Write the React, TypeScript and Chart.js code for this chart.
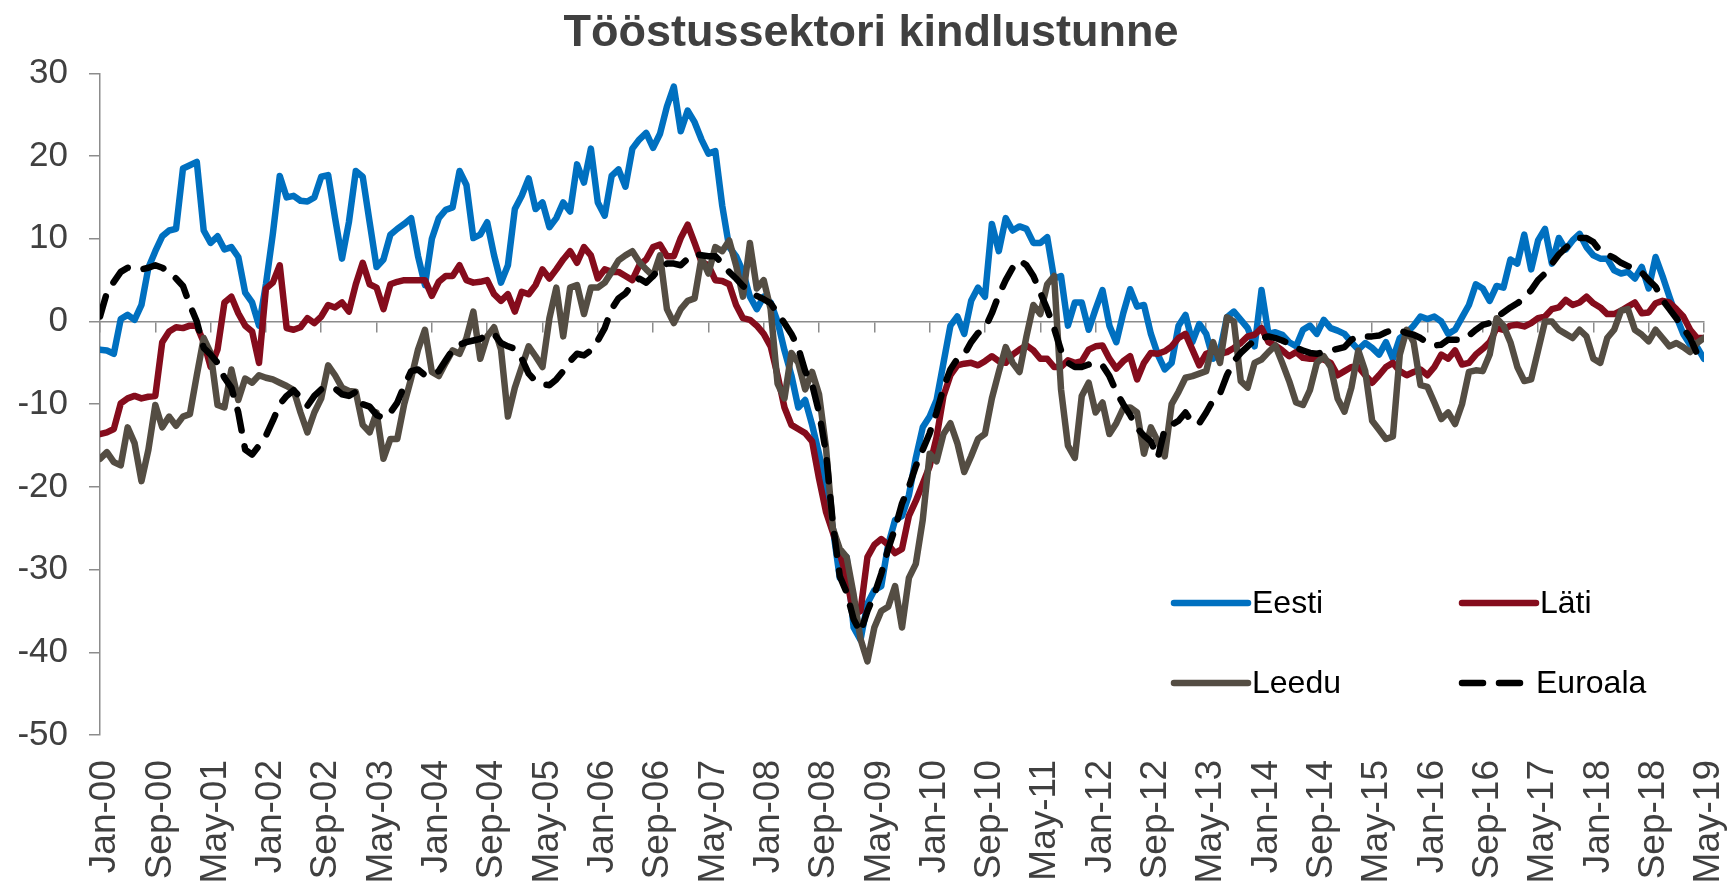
import React, { useEffect, useRef } from 'react';
import { Chart, registerables } from 'chart.js';

Chart.register(...registerables);

const MONTHS = ['Jan', 'Feb', 'Mar', 'Apr', 'May', 'Jun', 'Jul', 'Aug', 'Sep', 'Oct', 'Nov', 'Dec'];
const START_YEAR = 2000;
const N_MONTHS = 233; // Jan-00 .. May-19
const CATEGORIES: string[] = Array.from({ length: N_MONTHS }, (_, i) =>
  `${MONTHS[i % 12]}-${String((START_YEAR + Math.floor(i / 12)) % 100).padStart(2, '0')}`
);
const TICK_STEP = 8;
const TICK_INDEXES = CATEGORIES.map((_, i) => i).filter((i) => i % TICK_STEP === 0);
const Y_MIN = -50;
const Y_MAX = 30;
const Y_STEP = 10;

const TITLE = 'Tööstussektori kindlustunne';
const SERIES_NAMES = ['Eesti', 'Läti', 'Leedu', 'Euroala'];

const EESTI = [
  -3.4, -3.5, -3.9, 0.3, 0.8, 0.2, 2.0, 6.5, 8.5, 10.3, 11.0, 11.2,
  18.5, 18.9, 19.3, 11.0, 9.5, 10.3, 8.7, 9.0, 7.8, 3.5, 2.3, -0.5,
  4.5, 10.6, 17.6, 15.0, 15.2, 14.6, 14.5, 15.0, 17.5, 17.7, 12.5, 7.6,
  12.0, 18.2, 17.5, 12.0, 6.6, 7.5, 10.5, 11.2, 11.8, 12.5, 7.9, 4.4,
  10.0, 12.5, 13.5, 13.8, 18.2, 16.5, 10.1, 10.5, 12.0, 8.0, 4.7, 6.8,
  13.6, 15.2, 17.3, 13.6, 14.4, 11.4, 12.5, 14.4, 13.3, 19.0, 16.8, 20.9,
  14.4, 12.8, 17.6, 18.4, 16.3, 20.9, 22.0, 22.8, 21.0, 22.7, 26.0, 28.4,
  23.0, 25.5, 24.1, 22.0, 20.3, 20.6, 14.0, 9.0, 7.9, 6.0, 3.0, 1.5,
  3.0, 2.3, 0.0, -3.5, -6.5, -10.4, -9.5, -12.5, -16.0, -20.0, -25.0, -31.0,
  -28.5, -37.0, -38.5, -34.1, -32.5, -32.0, -27.0, -24.0, -23.5, -21.0, -16.5, -12.8,
  -11.5, -9.5, -5.0, -0.5, 0.6, -1.5, 2.5, 4.1, 3.0, 11.8, 8.5, 12.5,
  11.0, 11.5, 11.2, 9.5, 9.5, 10.2, 5.2, 5.5, -0.5, 2.3, 2.3, -1.0,
  1.5, 3.8, -0.5, -2.5, 1.0, 3.9, 1.8, 2.0, -1.5, -4.0, -5.8, -5.0,
  -0.5, 0.8, -2.5, -0.3, -1.5, -4.5, -3.5, 0.5, 1.2, 0.2, -0.8, -3.0,
  3.8, -1.5, -1.3, -1.6, -2.5, -3.0, -1.0, -0.5, -1.5, 0.2, -0.8, -1.1,
  -1.5, -2.5, -3.4, -2.6, -3.2, -4.0, -2.5, -4.5, -2.0, -1.4, -0.5, 0.6,
  0.3, 0.6, 0.0, -1.5, -1.0, 0.5, 2.0, 4.5, 4.0, 2.5, 4.3, 4.1,
  7.5, 7.0, 10.5, 6.3, 9.8, 11.2, 7.0, 10.1, 8.7, 9.8, 10.6, 9.0,
  8.0, 7.6, 7.6, 6.2, 5.8, 6.0, 5.2, 6.6, 4.0, 7.8, 5.5, 3.0,
  0.6, -1.5, -2.8, -3.1, -4.5,
];

const LATI = [
  -13.6, -13.4, -13.0, -9.9, -9.3, -9.0, -9.3, -9.1, -9.0, -2.5, -1.2, -0.7,
  -0.8, -0.5, -0.5, -2.5, -5.5, -3.4, 2.3, 3.0, 1.0, -0.5, -1.2, -5.0,
  4.0, 4.7, 6.8, -0.8, -1.0, -0.7, 0.4, -0.2, 0.6, 2.0, 1.7, 2.3,
  1.2, 4.5, 7.1, 4.5, 4.1, 1.5, 4.5, 4.8, 5.0, 5.0, 5.0, 5.0,
  3.1, 4.8, 5.5, 5.5, 6.8, 5.0, 4.7, 4.8, 5.0, 3.3, 2.5, 3.3,
  1.2, 3.6, 3.3, 4.4, 6.3, 5.2, 6.3, 7.5, 8.5, 7.1, 9.0, 8.0,
  5.2, 6.3, 6.0, 6.0, 5.5, 5.0, 6.8, 7.5, 9.0, 9.3, 7.9, 7.9,
  10.1, 11.7, 9.5, 7.2, 6.8, 5.0, 4.9, 4.5, 2.0, 0.4, 0.2, -0.5,
  -1.5, -3.0, -6.5, -10.4, -12.5, -13.0, -13.5, -14.5, -19.0, -23.0, -25.5, -28.0,
  -31.0, -35.5, -35.0, -28.5, -27.0, -26.3, -27.0, -28.0, -27.5, -23.5, -21.7, -19.6,
  -17.5, -14.0, -9.0, -6.5, -5.3, -5.1, -5.0, -5.3, -4.8, -4.2, -4.8, -5.0,
  -4.0, -3.4, -2.9, -3.5, -4.5, -4.5, -5.5, -5.5, -4.7, -5.0, -4.8, -3.4,
  -3.0, -2.9, -4.5, -5.7, -4.8, -4.2, -7.0, -5.0, -3.8, -3.9, -3.6, -3.0,
  -2.0, -1.5, -3.4, -5.3, -3.9, -3.6, -3.9, -3.7, -3.2, -2.6, -1.8, -1.6,
  -0.8, -2.5, -2.9, -3.5, -4.2, -3.7, -4.4, -4.5, -4.5, -4.6, -5.0, -6.5,
  -6.0, -5.5, -5.5, -6.5, -7.4, -6.5, -5.5, -5.0, -6.0, -6.5, -6.1, -5.8,
  -6.5, -5.5, -4.0, -4.5, -3.5, -5.2, -5.0, -4.0, -3.3, -2.5, -0.8, -1.0,
  -0.5, -0.4, -0.6, -0.2, 0.4, 0.6, 1.5, 1.7, 2.6, 2.0, 2.3, 3.0,
  2.2, 1.7, 0.9, 0.9, 1.3, 1.8, 2.3, 1.0, 1.1, 2.2, 2.5, 2.3,
  1.5, 0.6, -1.0, -2.0, -2.0,
];

const LEEDU = [
  -16.6, -15.8, -17.0, -17.4, -12.8, -14.7, -19.3, -15.5, -10.1, -12.8, -11.5, -12.6,
  -11.5, -11.2, -6.5, -2.0, -3.8, -10.1, -10.4, -5.8, -9.5, -6.9, -7.4, -6.5,
  -6.8, -7.0, -7.4, -7.8, -8.3, -11.0, -13.4, -11.0, -9.3, -5.3, -6.5, -8.0,
  -8.4, -8.5, -12.5, -13.4, -11.0, -16.6, -14.2, -14.2, -10.0, -6.9, -3.4, -1.0,
  -6.1, -6.6, -5.0, -3.5, -3.9, -2.0, 1.2, -4.5, -1.8, -0.7, -3.4, -11.5,
  -8.0, -5.5, -3.0, -4.2, -5.5, 0.4, 4.1, -1.8, 4.1, 4.4, 0.9, 4.1,
  4.1, 4.7, 6.0, 7.4, 8.0, 8.5, 7.2, 6.3, 5.5, 8.0, 1.5, -0.2,
  1.5, 2.5, 2.8, 7.7, 5.8, 9.0, 8.5, 9.8, 6.8, 3.0, 9.5, 4.0,
  5.0, 1.5, -7.5, -9.3, -3.8, -5.0, -8.2, -6.1, -8.8, -15.2, -25.0, -27.5,
  -28.5, -33.0, -38.4, -41.1, -37.0, -35.0, -34.5, -32.0, -37.0, -31.0, -29.3, -24.0,
  -16.0, -16.9, -13.6, -12.3, -14.7, -18.2, -16.3, -14.2, -13.6, -9.3, -6.1, -3.1,
  -5.0, -6.1, -1.8, 2.0, 0.9, 4.5, 5.5, -8.2, -15.0, -16.5, -9.0, -7.4,
  -11.0, -9.8, -13.6, -12.3, -10.5, -10.4, -11.0, -16.0, -12.8, -14.5, -16.3, -10.0,
  -8.5, -6.8, -6.6, -6.3, -6.0, -2.5, -5.0, 0.5, 0.0, -7.2, -8.0, -5.0,
  -4.6, -3.7, -2.9, -5.0, -7.2, -9.8, -10.1, -8.3, -5.0, -4.2, -5.5, -9.3,
  -10.9, -8.0, -3.5, -6.0, -12.0, -13.1, -14.2, -13.9, -4.0, -1.0, -2.5, -7.7,
  -7.9, -9.8, -11.8, -11.0, -12.4, -10.0, -6.1, -5.9, -6.0, -4.0, 0.4, -0.5,
  -2.5, -5.5, -7.2, -7.0, -3.5, 0.0, 0.0, -1.0, -1.5, -2.0, -1.0, -1.8,
  -4.5, -5.0, -2.0, -1.0, 1.3, 1.5, -1.0, -1.6, -2.4, -1.0, -2.0, -3.0,
  -2.6, -3.1, -3.7, -2.6, -2.0,
];

const EUROALA = [
  0.6, 3.5, 4.8, 6.0, 6.5, 6.3, 6.3, 6.5, 6.8, 6.5, 6.0, 5.2,
  4.3, 2.0, 0.0, -3.2, -4.0, -5.0, -6.8, -8.0, -11.0, -15.5, -16.1, -15.0,
  -13.8, -12.0, -10.0, -9.0, -8.3, -9.2, -10.2, -9.0, -8.2, -8.1, -8.1, -8.8,
  -9.0, -8.5, -10.0, -10.3, -11.3, -11.7, -11.0, -9.8, -7.8, -6.0, -5.8, -6.5,
  -6.4, -6.0, -4.7, -3.4, -2.8, -2.5, -2.3, -2.1, -1.6, -1.5, -2.6, -3.0,
  -3.3, -4.5, -6.3, -7.2, -7.6, -7.7, -7.0, -6.0, -4.8, -3.9, -4.1, -3.5,
  -2.3, -0.8, 1.5, 2.8, 3.4, 4.5, 5.2, 4.7, 5.5, 6.5, 7.0, 7.0,
  6.8, 7.6, 8.2, 8.0, 7.9, 7.9, 7.0, 6.0, 5.2, 4.3, 3.6, 3.1,
  2.7, 2.2, 1.0, -0.2, -1.5, -3.2, -6.0, -7.6, -11.0, -15.8, -24.4, -30.8,
  -32.8, -36.0, -37.6, -35.0, -33.0, -30.5, -27.5, -25.0, -22.0, -20.0, -17.5, -15.5,
  -13.5, -11.0, -8.0, -5.8, -4.5, -4.0, -2.5, -1.4, -0.8, 1.0, 3.2, 5.0,
  6.5, 7.4, 6.8, 5.5, 3.5, 1.5, -0.8, -3.5, -5.0, -5.5, -5.5, -5.2,
  -5.0, -5.3, -6.6, -8.5, -10.0, -11.3, -12.9, -13.8, -14.5, -16.5, -13.0, -12.5,
  -12.0, -11.0, -12.3, -12.3, -11.0, -9.5, -8.7, -6.5, -4.8, -3.8, -3.0, -2.3,
  -2.0, -1.8, -2.0, -2.3, -2.7, -3.2, -3.5, -3.8, -3.9, -3.7, -3.5, -3.3,
  -3.1, -2.2, -1.8, -1.8, -1.8, -1.7, -1.3, -1.0, -1.1, -1.4, -1.6, -2.0,
  -2.6, -2.9, -2.8, -2.2, -2.2, -2.2, -1.7, -1.0, -0.4, -0.2, 0.5, 1.1,
  1.7, 2.2, 2.8, 3.8, 5.0, 5.8, 7.0, 8.1, 8.9, 9.6, 10.1, 10.1,
  9.6, 8.5, 8.1, 7.7, 7.1, 6.7, 6.3, 5.9, 5.0, 4.2, 2.6, 1.5,
  0.4, -0.8, -2.0, -3.9, -3.3,
];

const SERIES_VALUES = [EESTI, LATI, LEEDU, EUROALA];
const SERIES_COLORS = ['#0070C0', '#850C1C', '#544D43', '#000000'];
const SERIES_DASH: number[][] = [[], [], [], [21, 16]];
const SERIES_ORDER = [4, 3, 2, 1];

const FONT_FAMILY = '"Liberation Sans", Arial, Helvetica, sans-serif';
const AXIS_COLOR = '#8C8C8C';
const LABEL_COLOR = '#404040';

const inlineLegend = {
  id: 'inlineLegend',
  afterDatasetsDraw(chart: any) {
    const { ctx, chartArea } = chart;
    const cols = [chartArea.left + 1074, chartArea.left + 1362];
    const rows = [chartArea.top + 529.5, chartArea.top + 609.5];
    chart.data.datasets.forEach((ds: any, i: number) => {
      const x = cols[i % 2];
      const y = rows[Math.floor(i / 2)];
      const dashed = ds.borderDash && ds.borderDash.length > 0;
      const len = dashed ? 66 : 74;
      ctx.save();
      ctx.strokeStyle = ds.borderColor;
      ctx.lineWidth = 6.5;
      ctx.lineCap = 'round';
      ctx.setLineDash(ds.borderDash || []);
      ctx.beginPath();
      ctx.moveTo(x, y);
      ctx.lineTo(x + len, y);
      ctx.stroke();
      ctx.setLineDash([]);
      ctx.fillStyle = '#000000';
      ctx.font = `32px ${FONT_FAMILY}`;
      ctx.textBaseline = 'middle';
      ctx.textAlign = 'left';
      ctx.fillText(ds.label, x + (dashed ? 74 : len + 4), y + 1);
      ctx.restore();
    });
  },
};

const setMonthTicks = (s: any) => {
  s.ticks = TICK_INDEXES.map((v) => ({ value: v }));
};

export default function App() {
  const canvasRef = useRef<HTMLCanvasElement | null>(null);

  useEffect(() => {
    document.body.style.margin = '0';
    const canvas = canvasRef.current;
    if (!canvas) return;

    const datasets = SERIES_NAMES.map((name, k) => ({
      label: name,
      data: SERIES_VALUES[k].map((v, i) => ({ x: i, y: v })),
      borderColor: SERIES_COLORS[k],
      backgroundColor: SERIES_COLORS[k],
      borderWidth: 6.5,
      borderDash: SERIES_DASH[k],
      borderCapStyle: 'round',
      borderJoinStyle: 'round',
      pointRadius: 0,
      pointHoverRadius: 0,
      tension: 0,
      fill: false,
      order: SERIES_ORDER[k],
      xAxisID: 'x',
      yAxisID: 'y',
    }));

    const chart = new Chart(canvas, {
      type: 'line',
      data: { datasets } as any,
      plugins: [inlineLegend],
      options: {
        animation: false,
        responsive: false,
        devicePixelRatio: 1,
        parsing: false as any,
        normalized: true,
        layout: { padding: { left: 8, right: 0, top: 0, bottom: 0 } },
        font: { family: FONT_FAMILY },
        plugins: {
          legend: { display: false },
          tooltip: { enabled: false },
          title: {
            display: true,
            text: TITLE,
            color: LABEL_COLOR,
            font: { family: FONT_FAMILY, size: 45, weight: 'bold' },
            padding: { top: 6.5, bottom: 12.9 },
          },
        },
        scales: {
          x: {
            type: 'linear',
            position: 'bottom',
            min: 0,
            max: N_MONTHS - 1,
            grid: { display: false, drawTicks: false },
            border: { display: false },
            ticks: {
              autoSkip: false,
              minRotation: 90,
              maxRotation: 90,
              padding: 25,
              labelOffset: 5,
              color: LABEL_COLOR,
              font: { family: FONT_FAMILY, size: 37 },
              callback: (v: any) => CATEGORIES[Math.round(Number(v))] ?? '',
            },
            afterBuildTicks: setMonthTicks,
            afterFit: (s: any) => {
              s.height = 149;
              s.paddingLeft = 0;
              s.paddingRight = 30;
            },
          },
          x0: {
            type: 'linear',
            axis: 'x',
            position: { y: 0 } as any,
            min: 0,
            max: N_MONTHS - 1,
            grid: { display: true, drawOnChartArea: false, drawTicks: true, tickLength: 10, color: AXIS_COLOR, lineWidth: 1.5 },
            border: { display: true, color: AXIS_COLOR, width: 1.5 },
            ticks: { display: false, autoSkip: false },
            afterBuildTicks: setMonthTicks,
            afterFit: (s: any) => {
              s.paddingLeft = 0;
              s.paddingRight = 0;
            },
          },
          y: {
            type: 'linear',
            position: 'left',
            min: Y_MIN,
            max: Y_MAX,
            grid: { display: true, drawOnChartArea: false, drawTicks: true, tickLength: 11, color: AXIS_COLOR, lineWidth: 1.5 },
            border: { display: true, color: AXIS_COLOR, width: 1.5 },
            ticks: {
              stepSize: Y_STEP,
              padding: 21,
              color: LABEL_COLOR,
              font: { family: FONT_FAMILY, size: 35 },
            },
            afterFit: (s: any) => { s.width = 92; },
          },
        } as any,
      },
    } as any);

    return () => chart.destroy();
  }, []);

  return (
    <div style={{ width: 1734, height: 884, background: '#ffffff' }}>
      <canvas ref={canvasRef} width={1734} height={884} style={{ display: 'block' }} />
    </div>
  );
}
